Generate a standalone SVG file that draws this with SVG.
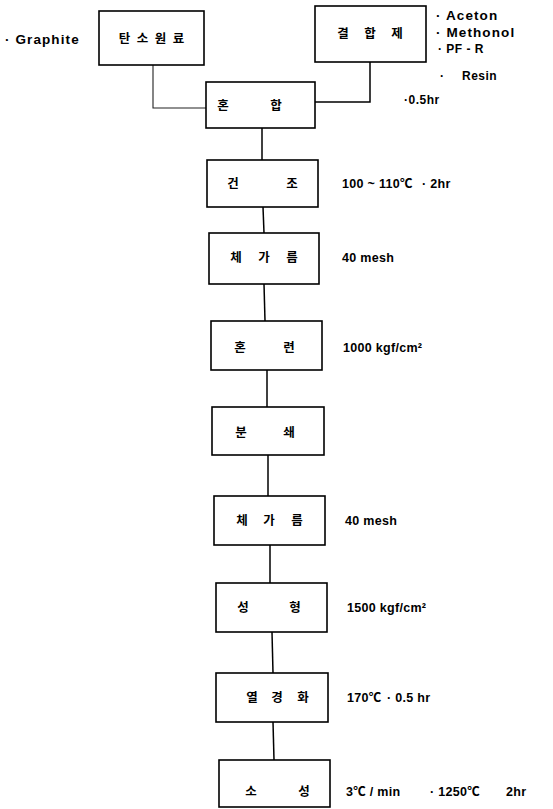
<svg xmlns="http://www.w3.org/2000/svg" width="553" height="809" viewBox="0 0 553 809">
<style>
.box{fill:#fff;stroke:#000;stroke-width:1.6}
.ko{font-family:"Noto Sans CJK KR","Noto Sans",sans-serif;font-weight:700;font-size:12.5px;fill:#000;text-anchor:middle}
.lbl{font-family:"Liberation Sans","Noto Sans CJK KR",sans-serif;font-weight:700;font-size:12.5px;fill:#000;letter-spacing:0.3px}
.hd{font-family:"Liberation Sans",sans-serif;font-weight:700;font-size:13.5px;fill:#000;letter-spacing:1.1px}
.sm{font-family:"Liberation Sans",sans-serif;font-weight:700;font-size:12px;fill:#000;letter-spacing:0.5px}
.ln{fill:none;stroke:#000;stroke-width:1.5}
.ln2{fill:none;stroke:#222;stroke-width:1.1}
</style>
<rect width="553" height="809" fill="#fff"/>
<g id="connectors">
<polyline class="ln2" points="153,65 153,108 206,108"/>
<polyline class="ln" points="370,62 370,102 315,102"/>
<line class="ln" x1="262" y1="128" x2="262" y2="160"/>
<line class="ln" x1="263" y1="207" x2="264" y2="233"/>
<line class="ln" x1="264" y1="284" x2="265" y2="321"/>
<line class="ln" x1="267" y1="370" x2="267" y2="407"/>
<line class="ln" x1="268" y1="455" x2="268" y2="496"/>
<line class="ln" x1="270" y1="545" x2="270" y2="583"/>
<line class="ln" x1="272" y1="632" x2="273" y2="673"/>
<line class="ln" x1="273" y1="722" x2="274" y2="760"/>
</g>
<g id="graphite-label"><text class="hd" x="5" y="44">· Graphite</text></g>
<g id="binder-labels">
<text class="hd" x="436" y="20">· Aceton</text>
<text class="hd" x="436" y="37">· Methonol</text>
<text class="sm" x="438" y="53">· PF - R</text>
<text class="sm" y="80"><tspan x="440">·</tspan><tspan x="462">Resin</tspan></text>
<text class="sm" x="404" y="104">·0.5hr</text>
</g>
<g id="n-carbon"><rect class="box" x="99" y="11" width="105" height="54"/><text class="ko" x="124.5 142.5 160.5 178.5" y="43">탄소원료</text></g>
<g id="n-binder"><rect class="box" x="315" y="6" width="111" height="56"/><text class="ko" x="343 370 397" y="38">결합제</text></g>
<g id="n-mix"><rect class="box" x="206" y="82" width="109" height="46"/><text class="ko" x="223 276" y="110">혼합</text></g>
<g id="n-dry"><rect class="box" x="207" y="160" width="111" height="47"/><text class="ko" x="233 292" y="188">건조</text>
<text class="lbl" y="188"><tspan x="342">100 ~ 110℃</tspan><tspan x="422">· 2hr</tspan></text></g>
<g id="n-sieve1"><rect class="box" x="209" y="233" width="110" height="51"/><text class="ko" x="236 264 292" y="262">체가름</text>
<text class="lbl" x="342" y="262">40 mesh</text></g>
<g id="n-knead"><rect class="box" x="211" y="321" width="111" height="49"/><text class="ko" x="240 289" y="352">혼련</text>
<text class="lbl" x="343" y="352">1000 kgf/cm²</text></g>
<g id="n-crush"><rect class="box" x="212" y="407" width="112" height="48"/><text class="ko" x="241 289" y="437">분쇄</text></g>
<g id="n-sieve2"><rect class="box" x="214" y="496" width="111" height="49"/><text class="ko" x="242 269 297" y="525">체가름</text>
<text class="lbl" x="345" y="525">40 mesh</text></g>
<g id="n-form"><rect class="box" x="216" y="583" width="111" height="49"/><text class="ko" x="243 295" y="612">성형</text>
<text class="lbl" x="347" y="612">1500 kgf/cm²</text></g>
<g id="n-cure"><rect class="box" x="216" y="673" width="112" height="49"/><text class="ko" x="252 277 303" y="702">열경화</text>
<text class="lbl" y="702"><tspan x="347">170℃</tspan><tspan x="387">· 0.5 hr</tspan></text></g>
<g id="n-fire"><rect class="box" x="219" y="760" width="111" height="47"/><text class="ko" x="251 304" y="796">소성</text>
<text class="lbl" y="796"><tspan x="346">3℃ / min</tspan><tspan x="430">· 1250℃</tspan><tspan x="506">2hr</tspan></text></g>
</svg>
